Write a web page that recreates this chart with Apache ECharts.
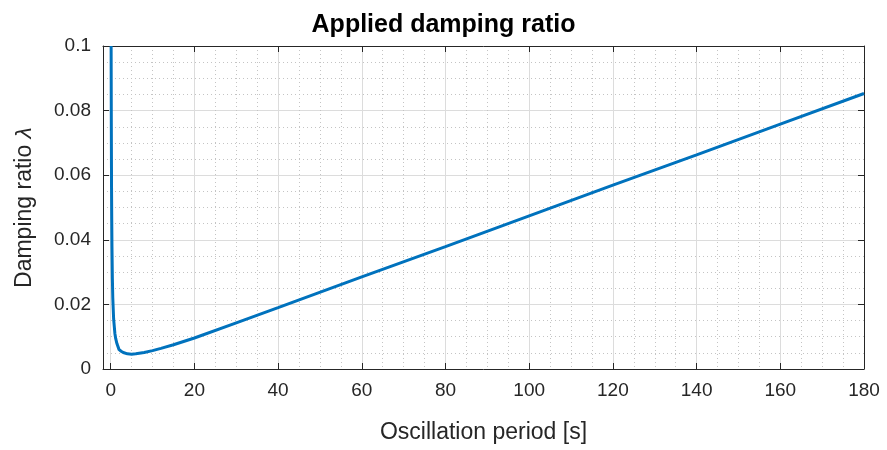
<!DOCTYPE html>
<html>
<head>
<meta charset="utf-8">
<title>Applied damping ratio</title>
<script src="https://cdn.jsdelivr.net/npm/echarts@6/dist/echarts.min.js"></script>
<style>
  html, body { margin: 0; padding: 0; background: #ffffff; }
  #chart { width: 887px; height: 450px; }
</style>
</head>
<body>
<div id="chart"></div>
<script>
// Oscillation period T [s] and the applied damping ratio at that period
const periods = [0.1, 0.15, 0.2, 0.25, 0.3, 0.4, 0.5, 0.7, 1, 1.2, 1.5, 2, 2.5, 3, 4, 5, 6, 8, 10, 12, 15, 20, 30, 40, 60, 80, 100, 120, 140, 160, 180];
const damping = [0.1, 0.075, 0.056, 0.046, 0.038, 0.028, 0.022, 0.0155, 0.011, 0.0094, 0.0078, 0.006, 0.0055, 0.0051, 0.0047, 0.0046, 0.0047, 0.0051, 0.0057, 0.0064, 0.0075, 0.0096, 0.0143, 0.019, 0.0285, 0.0379, 0.0474, 0.0569, 0.0663, 0.0758, 0.0853];

// Axis limits
const xRange = [-1.84, 180];
const yRange = [0, 0.1];
const yStep = 0.02;

const points = periods.map((t, i) => [t, damping[i]]);

const axisColor = '#262626';
const font = 'Liberation Sans, Arial, Helvetica, sans-serif';

const chart = echarts.init(document.getElementById('chart'), null, { renderer: 'canvas' });

const xBase = {
  type: 'value',
  min: xRange[0],
  max: xRange[1],
  splitNumber: 9,
  axisLine: { show: true, onZero: false, lineStyle: { color: axisColor, width: 1 } },
  axisTick: { show: true, inside: true, length: 6, lineStyle: { color: axisColor } }
};
const yBase = {
  type: 'value',
  min: yRange[0],
  max: yRange[1],
  interval: yStep,
  axisLine: { show: true, onZero: false, lineStyle: { color: axisColor, width: 1 } },
  axisTick: { show: true, inside: true, length: 6, lineStyle: { color: axisColor } }
};

chart.setOption({
  backgroundColor: '#ffffff',
  animation: false,
  title: {
    text: 'Applied damping ratio',
    left: 'center',
    top: 8,
    textStyle: { fontFamily: font, fontSize: 25, fontWeight: 'bold', color: '#000000' }
  },
  grid: { left: 103, right: 23, top: 46, bottom: 81 },
  xAxis: [
    Object.assign({}, xBase, {
      position: 'bottom',
      name: 'Oscillation period [s]',
      nameLocation: 'middle',
      nameGap: 52,
      nameTextStyle: { fontFamily: font, fontSize: 23, color: axisColor },
      axisLabel: {
        show: true, margin: 12, fontFamily: font, fontSize: 19, color: axisColor,
        formatter: v => (v < 0 ? '' : String(v))
      },
      splitLine: { show: true, lineStyle: { color: '#dcdcdc', width: 1 } },
      minorTick: { show: false, splitNumber: 4 },
      minorSplitLine: { show: true, lineStyle: { color: '#c4c4c4', width: 1, type: [1, 3] } }
    }),
    Object.assign({}, xBase, {
      position: 'top',
      axisLabel: { show: false },
      splitLine: { show: false }
    })
  ],
  yAxis: [
    Object.assign({}, yBase, {
      position: 'left',
      name: 'Damping ratio {l|λ}',
      nameLocation: 'middle',
      nameGap: 67,
      nameTextStyle: {
        fontFamily: font, fontSize: 23, color: axisColor,
        rich: { l: { fontFamily: font, fontSize: 23, fontStyle: 'italic', color: axisColor } }
      },
      axisLabel: { show: true, margin: 12, fontFamily: font, fontSize: 19, color: axisColor },
      splitLine: { show: true, lineStyle: { color: '#dcdcdc', width: 1 } },
      minorTick: { show: false, splitNumber: 4 },
      minorSplitLine: { show: true, lineStyle: { color: '#c4c4c4', width: 1, type: [1, 3] } }
    }),
    Object.assign({}, yBase, {
      position: 'right',
      axisLabel: { show: false },
      splitLine: { show: false }
    })
  ],
  series: [
    {
      type: 'line',
      xAxisIndex: 0,
      yAxisIndex: 0,
      data: points,
      showSymbol: false,
      smooth: false,
      clip: true,
      lineStyle: { color: '#0072BD', width: 3 },
      z: 5
    }
  ]
});
</script>
</body>
</html>
